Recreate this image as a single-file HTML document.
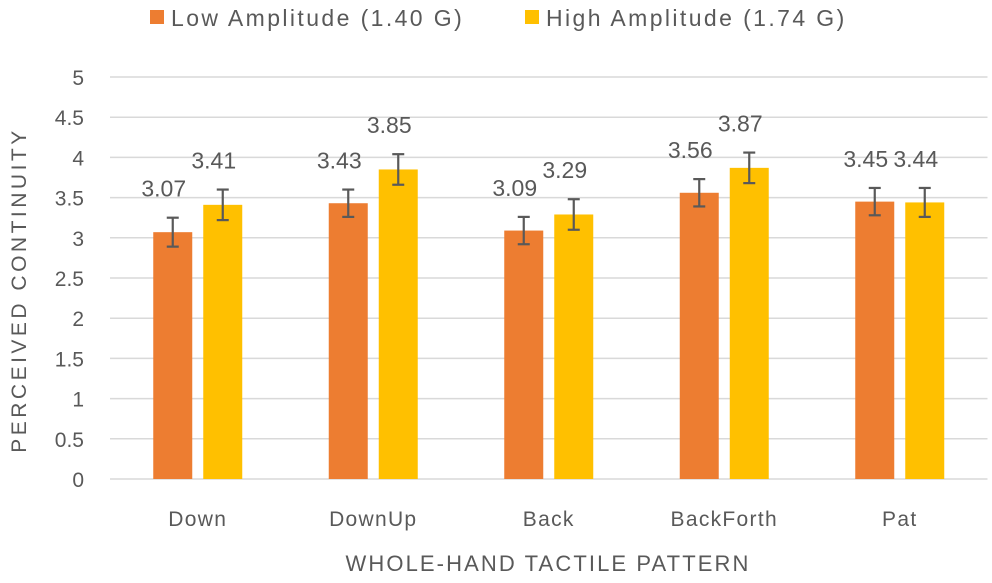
<!DOCTYPE html>
<html><head><meta charset="utf-8"><style>
body{margin:0;background:#fff;}
svg text{font-family:"Liberation Sans",sans-serif;fill:#595959;}
</style></head><body>
<svg id="chart" width="992" height="578">
<g id="legend">
<rect x="150" y="10" width="14" height="14" fill="#ED7D31"/>
<text x="171" y="26" font-size="23" letter-spacing="2.4">Low Amplitude (1.40 G)</text>
<rect x="525" y="10" width="14" height="14" fill="#FFC000"/>
<text x="546" y="26" font-size="23" letter-spacing="2.4">High Amplitude (1.74 G)</text>
</g>
<g id="grid"></g><g id="bars"></g>
<text x="548" y="571" font-size="22" letter-spacing="2.1" text-anchor="middle">WHOLE-HAND TACTILE PATTERN</text>
<text transform="translate(26,290) rotate(-90)" font-size="21" letter-spacing="3.5" text-anchor="middle">PERCEIVED CONTINUITY</text>
</svg>
<script>
const categories=["Down","DownUp","Back","BackForth","Pat"];
const lowValues=[3.07,3.43,3.09,3.56,3.45];
const highValues=[3.41,3.85,3.29,3.87,3.44];
const lowErrors=[0.18,0.17,0.17,0.17,0.17];
const highErrors=[0.19,0.19,0.19,0.19,0.18];
const yTicks=[0,0.5,1,1.5,2,2.5,3,3.5,4,4.5,5];
const NS="http://www.w3.org/2000/svg";
const x0=110,x1=987.5,yBase=479,yScale=80.4;
const y=v=>yBase-v*yScale;
const step=(x1-x0)/categories.length;
const grid=document.getElementById('grid'),bars=document.getElementById('bars');
function mk(tag,attrs,parent){const e=document.createElementNS(NS,tag);for(const k in attrs)e.setAttribute(k,attrs[k]);parent.appendChild(e);return e;}
yTicks.forEach(t=>{
 const l=mk('line',{x1:x0,x2:x1,y1:y(t),y2:y(t),stroke:'#d9d9d9','stroke-width':1.5},grid);
 
 
 const tx=mk('text',{x:84,y:y(t)+8,'font-size':21,'text-anchor':'end'},grid);
 tx.textContent=t;
 
 
});
const bw=39,gap=11;
categories.forEach((c,i)=>{
 const cx=x0+step*(i+0.5);
 const tx=mk('text',{x:cx,y:526,'font-size':21,'letter-spacing':1.3,'text-anchor':'middle'},bars);
 tx.textContent=c;
 
 
 [[lowValues,lowErrors,'#ED7D31',cx-gap/2-bw,'low'],[highValues,highErrors,'#FFC000',cx+gap/2,'high']].forEach(([vals,errs,col,bx,nm])=>{
  const v=vals[i],e=errs[i];
  const r=mk('rect',{x:bx,y:y(v),width:bw,height:yBase-y(v),fill:col},bars);
  
  
  const mx=bx+bw/2;
  const g=mk('g',{stroke:'#595959','stroke-width':2.2},bars);
  
  
  mk('line',{x1:mx,x2:mx,y1:y(v+e),y2:y(v-e)},g);
  mk('line',{x1:mx-6,x2:mx+6,y1:y(v+e),y2:y(v+e)},g);
  mk('line',{x1:mx-6,x2:mx+6,y1:y(v-e),y2:y(v-e)},g);
  const lb=mk('text',{x:mx-9,y:y(v+e)-21,'font-size':23,'text-anchor':'middle'},bars);
  lb.textContent=v.toFixed(2);
  
  
 });
});
</script>
</body></html>
